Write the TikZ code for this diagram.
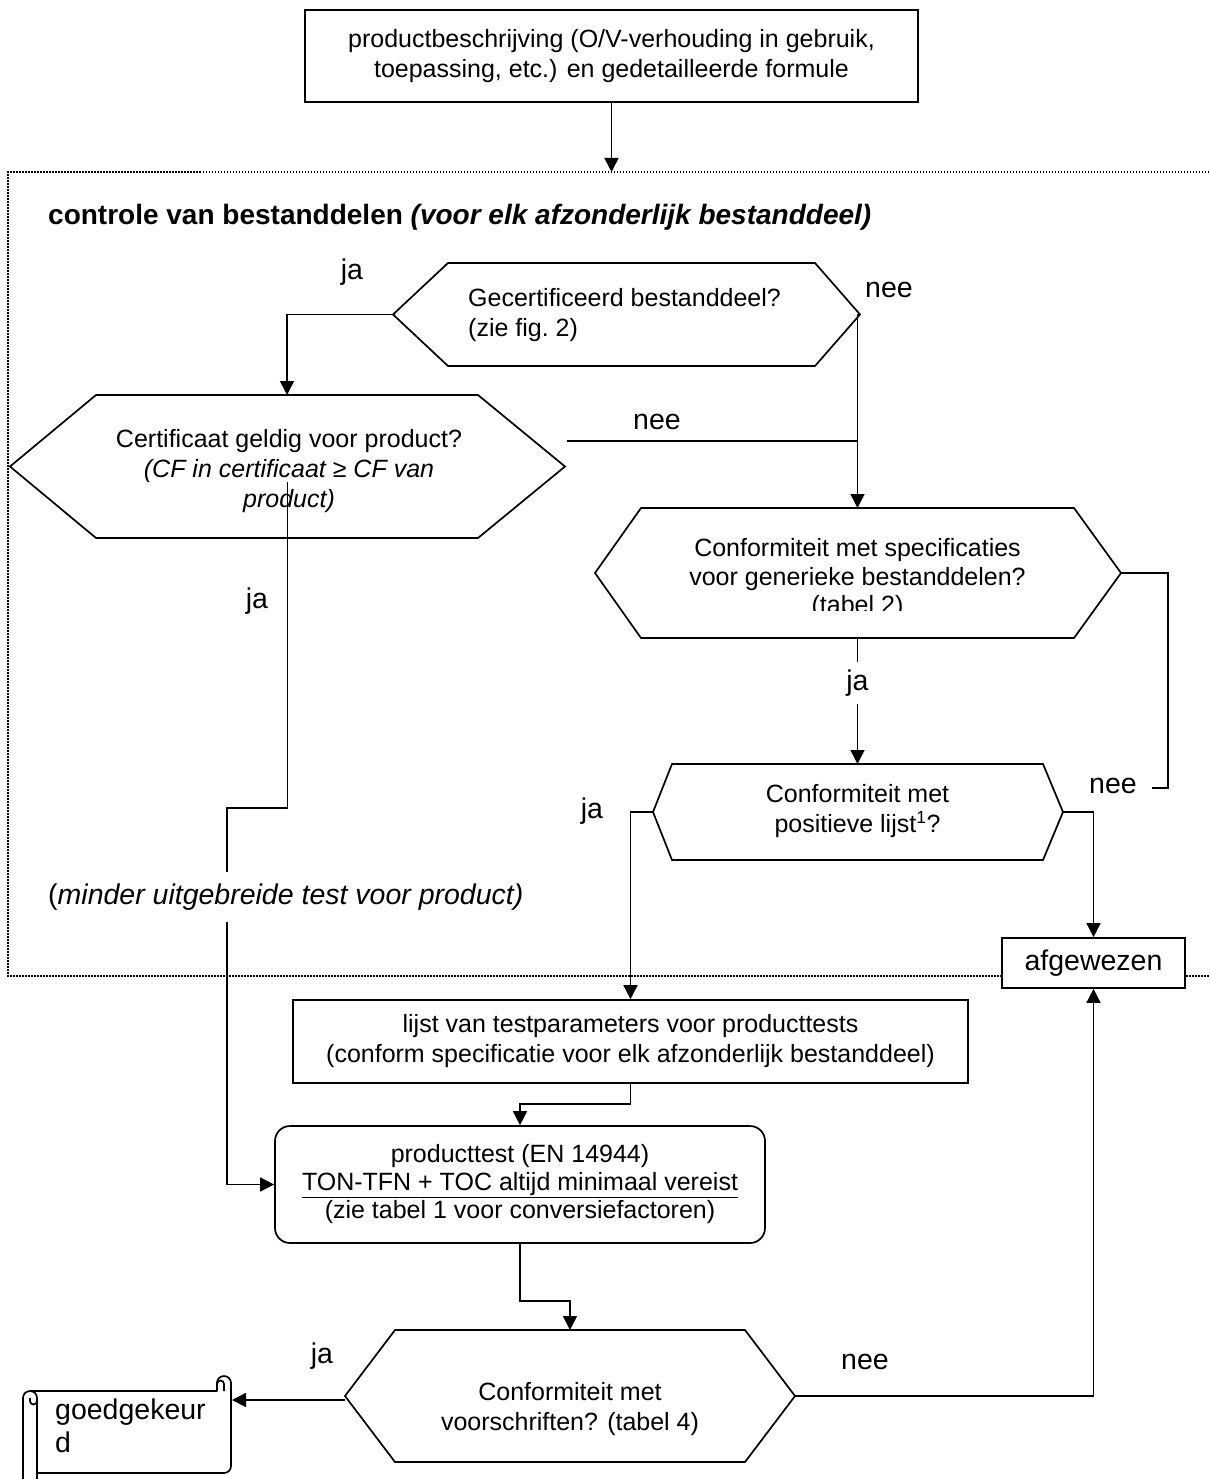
\documentclass[tikz,border=0pt]{standalone}
\usepackage{fontspec}
\setmainfont{Liberation Sans}
\usetikzlibrary{arrows.meta,calc}
\tikzset{
  base/.style={line width=1.7pt},
  arr/.style={base,-{Triangle[length=14pt,width=14pt]}},
  lbl/.style={inner sep=1pt, font=\fontsize{25}{30}\selectfont},
  biglbl/.style={inner sep=1pt, font=\fontsize{28.5}{33}\selectfont},
  boxn/.style={draw, line width=1.7pt, align=center, inner sep=0pt, fill=white, font=\fontsize{25}{30}\selectfont},
  framedot/.style={line width=1.5pt, dash pattern=on 1.5pt off 1.5pt},
  hexline/.style={line width=1.7pt, line join=miter},
}
\newcommand\hexshape[7]{%
  \draw[hexline] (#2,{(#6+#7)/2}) -- (#3,#6) -- (#4,#6) -- (#5,{(#6+#7)/2}) -- (#4,#7) -- (#3,#7) -- cycle;
  \coordinate (#1L) at (#2,{(#6+#7)/2});
  \coordinate (#1R) at (#5,{(#6+#7)/2});
  \coordinate (#1T) at ({(#3+#4)/2},#6);
  \coordinate (#1B) at ({(#3+#4)/2},#7);
}
\begin{document}
\begin{tikzpicture}[x=1pt,y=-1pt]
\useasboundingbox (0,0) rectangle (1209,1479);
\fill[white] (0,0) rectangle (1209,1479);

% dotted frame
\draw[framedot] (1215,172) -- (8,172) -- (8,976) -- (1215,976);

% top box
\node[boxn, minimum width=613pt, minimum height=92pt] (top) at (611.5,56) {productbeschrijving (O/V-verhouding in gebruik,\\toepassing, etc.) en gedetailleerde formule};
\coordinate (frameT) at (611.5,172);

% title
\node[anchor=west, inner sep=0pt, font=\bfseries\fontsize{28}{32}\selectfont] (title) at (48,217) {controle van bestanddelen \textit{(voor elk afzonderlijk bestanddeel)}};

% hexagons
\hexshape{h1}{393}{448}{815}{860}{263}{366}
\node[lbl, anchor=west, align=left] (h1t) at (467,315) {Gecertificeerd bestanddeel?\\(zie fig.~2)};

\hexshape{ce}{10}{96}{478}{565}{395}{538}
\node[lbl, align=center] (cet) at (289,471) {Certificaat geldig voor product?\\{\itshape (CF in certificaat ≥ CF van}\\{\itshape product)}};

\hexshape{sp}{595}{641}{1074}{1121}{508}{638}
\begin{scope}
\clip (590,500) rectangle (1130,610);
\node[lbl, align=center, font=\fontsize{25}{28.5}\selectfont] (spt) at (857.5,579) {Conformiteit met specificaties\\voor generieke bestanddelen?\\(tabel 2)};
\end{scope}

\hexshape{pl}{653}{672}{1043}{1063}{764}{860}
\node[lbl, align=center] (plt) at (857.5,811) {Conformiteit met\\positieve lijst\textsuperscript{1}?};

\hexshape{fi}{345}{395}{745}{795}{1330}{1462}
\node[lbl, align=center] (fit) at (570,1409) {Conformiteit met\\voorschriften? (tabel 4)};

% boxes
\node[boxn, minimum width=675pt, minimum height=83pt] (lijst) at (630.5,1041.5) {lijst van testparameters voor producttests\\(conform specificatie voor elk afzonderlijk bestanddeel)};
\node[boxn, rounded corners=15pt, minimum width=490pt, minimum height=117pt, font=\fontsize{25}{28}\selectfont] (pt) at (520,1184.5) {producttest (EN 14944)\\\underline{TON-TFN + TOC altijd minimaal vereist}\\(zie tabel 1 voor conversiefactoren)};
\node[boxn, minimum width=183pt, minimum height=50pt, font=\fontsize{28.5}{33}\selectfont] (afg) at (1093.5,963) {afgewezen};

% scroll
\draw[base, line join=round] (23,1495) -- (23,1398) arc[start angle=180,end angle=0,radius=7pt] -- (37,1495);
\draw[base] (37,1401) arc[start angle=0,end angle=-180,radius=3.5pt] -- (30,1398);
\draw[base, line join=round] (37,1473) -- (224,1473) arc[start angle=-90,end angle=0,radius=7pt] -- (231,1383) arc[start angle=0,end angle=180,radius=7pt] -- (217,1391) -- (30,1391);
\draw[base] (224,1391) -- (224,1384) arc[start angle=0,end angle=180,radius=3.5pt];
\node[biglbl, anchor=north west, align=left] (goed) at (54,1398) {goedgekeur\\d};
\coordinate (scrollR) at (232,1400);

% helper coordinates
\coordinate (ceN) at (567,441);
\coordinate (ceIn) at (287.5,482);
\coordinate (bend1) at (227,808);
\coordinate (spC) at (1168,788);
\coordinate (spE) at (1152,788);
\coordinate (j2) at (520,1104);
\coordinate (j3) at (570,1301);

% connectors
\draw[arr] (top.south) -- (frameT);
\draw[arr] (h1L) -| (ceT);
\draw[arr] (h1R) -| (spT);
\draw[base] (ceN) -- (ceN -| spT);
\draw[arr] (ceIn) |- (bend1) |- (pt.west);
\draw[base] (spR) -| (spC) -- (spE);
\draw[arr] (spB) -- (plT);
\draw[arr] (plL) -| (lijst.north);
\draw[arr] (plR) -| (afg.north);
\draw[arr] (lijst.south) |- (j2) -- (pt.north);
\draw[arr] (pt.south) |- (j3) -- (fiT);
\draw[arr] (fiR) -| (afg.south);
\draw[arr] (fiL |- scrollR) -- (scrollR);

% labels
\node[biglbl] (ja1) at (352,272) {ja};
\node[biglbl] (nee1) at (889,290) {nee};
\node[biglbl] (nee2) at (657,422) {nee};
\node[biglbl] (ja2) at (257,601) {ja};
\node[biglbl, fill=white, inner ysep=8pt] (ja3) at (857.5,683) {ja};
\node[biglbl] (ja4) at (592,811) {ja};
\node[biglbl] (nee3) at (1113,786) {nee};
\node[biglbl] (ja5) at (322,1356) {ja};
\node[biglbl] (nee4) at (865,1362) {nee};
\node[biglbl, anchor=west, fill=white, inner xsep=2pt, inner ysep=12pt] (minder) at (46,897) {(\textit{minder uitgebreide test voor product)}};
\end{tikzpicture}
\end{document}
